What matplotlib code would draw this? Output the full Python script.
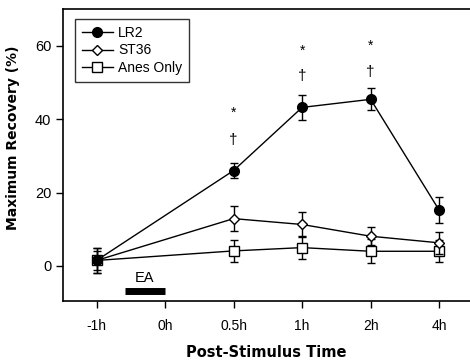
import matplotlib
matplotlib.use("Agg")
import matplotlib.pyplot as plt
from matplotlib.lines import Line2D

plt.rcParams['font.family'] = ['Liberation Sans', 'DejaVu Sans']

time_labels = ["-1h", "0h", "0.5h", "1h", "2h", "4h"]
data_pos = [0, 2, 3, 4, 5]  # category indices that carry data (0h has none)

lr2 = [1.5, 26.0, 43.2, 45.4, 15.2]
lr2_err = [3.5, 2.0, 3.3, 3.0, 3.5]
st36 = [1.5, 12.9, 11.3, 8.1, 6.3]
st36_err = [2.5, 3.4, 3.5, 2.4, 3.0]
anes = [1.5, 4.1, 5.0, 4.0, 4.0]
anes_err = [3.5, 3.0, 3.2, 3.3, 3.0]

star_pos = [2, 3, 4]
star_y = [41.6, 58.7, 60.1]
dagger_y = [34.3, 51.7, 52.9]

ea_start, ea_end, ea_y = 0.41, 1.0, -6.8

fig = plt.figure(figsize=(4.7, 3.62), dpi=100)
ax = fig.add_axes([0.134, 0.169, 0.866, 0.806])

common = dict(color='black', lw=1.0, capsize=3, elinewidth=1.0, capthick=1.0)
ax.errorbar(data_pos, anes, yerr=anes_err, marker='s', ms=7.5, mfc='white', mec='black',
            mew=1.0, zorder=3, **common)
ax.errorbar(data_pos, st36, yerr=st36_err, marker='D', ms=5.5, mfc='white', mec='black',
            mew=1.0, zorder=4, **common)
ax.errorbar(data_pos, lr2, yerr=lr2_err, marker='o', ms=7, mfc='black', mec='black',
            zorder=5, **common)

for p, s, d in zip(star_pos, star_y, dagger_y):
    ax.text(p, s, "*", ha='center', va='center', fontsize=10)
    ax.text(p, d, "\u2020", ha='center', va='center', fontsize=11)

ax.plot([ea_start, ea_end], [ea_y, ea_y], color='black', lw=5, solid_capstyle='butt')
ax.text((ea_start + ea_end) / 2, -3.2, "EA", ha='center', va='center', fontsize=10.5)

ax.set_xlim(-0.49, 5.45)
ax.set_ylim(-9.5, 70)
ax.set_xticks(range(len(time_labels)))
ax.set_xticklabels(time_labels, fontsize=10)
ax.set_yticks([0, 20, 40, 60])
ax.tick_params(axis='y', labelsize=10.5, length=5, width=1)
ax.tick_params(axis='x', length=5, width=1, pad=8)
for sp in ax.spines.values():
    sp.set_linewidth(1.2)
ax.spines['right'].set_visible(False)

ax.set_ylabel("Maximum Recovery (%)", fontsize=10, fontweight='bold',
              family=['DejaVu Sans'])
ax.yaxis.set_label_coords(-0.105, 0.56)
ax.set_xlabel("Post-Stimulus Time", fontsize=10.5, fontweight='bold',
              family=['DejaVu Sans'])
ax.xaxis.set_label_coords(0.5, -0.15)

handles = [
    Line2D([], [], color='black', lw=1.0, marker='o', ms=7, mfc='black'),
    Line2D([], [], color='black', lw=1.0, marker='D', ms=5.5, mfc='white'),
    Line2D([], [], color='black', lw=1.0, marker='s', ms=7.5, mfc='white'),
]
labels = ["LR2", "ST36", "Anes Only"]
leg = ax.legend(handles, labels, loc='upper left', bbox_to_anchor=(0.03, 0.966),
                borderaxespad=0, fontsize=10, frameon=True, fancybox=False,
                edgecolor='black', handlelength=2.2, borderpad=0.5,
                labelspacing=0.25, handletextpad=0.4)
leg.get_frame().set_linewidth(1.0)

fig.savefig("out.png", dpi=100)
